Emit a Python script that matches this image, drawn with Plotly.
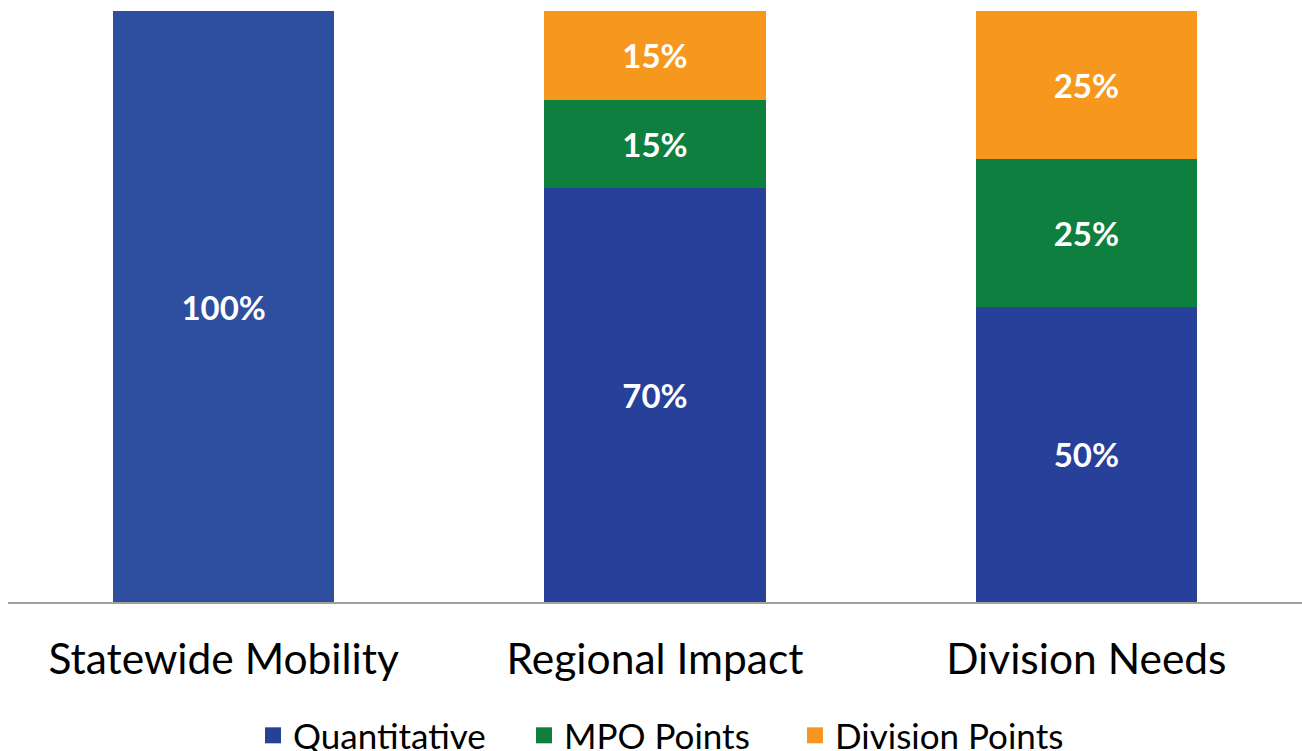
import plotly.graph_objects as go

categories = ["Statewide Mobility", "Regional Impact", "Division Needs"]
quantitative = [100, 70, 50]
mpo_points = [0, 15, 25]
division_points = [0, 15, 25]

series_names = ["Quantitative", "MPO Points", "Division Points"]
series_colors = ["#27419A", "#0F7F40", "#F7981E"]
quant_colors = ["#2E4E9F", "#27419A", "#27419A"]
FONT = "Lato"

def labels(vals):
    return [f"{v}%" if v > 0 else "" for v in vals]

fig = go.Figure()
fig.add_trace(go.Bar(x=categories, y=quantitative, name=series_names[0],
                     marker=dict(color=quant_colors, line=dict(width=0)),
                     text=labels(quantitative), showlegend=False))
fig.add_trace(go.Bar(x=categories, y=mpo_points, name=series_names[1],
                     marker=dict(color=series_colors[1], line=dict(width=0)),
                     text=labels(mpo_points), showlegend=False))
fig.add_trace(go.Bar(x=categories, y=division_points, name=series_names[2],
                     marker=dict(color=series_colors[2], line=dict(width=0)),
                     text=labels(division_points), showlegend=False))

fig.update_traces(textposition="inside", insidetextanchor="middle",
                  textfont=dict(family=FONT, size=33, color="white", weight="bold"),
                  textangle=0, cliponaxis=False)

# legend-only entries with larger square swatches
for name, col in zip(series_names, series_colors):
    fig.add_trace(go.Scatter(x=[None], y=[None], mode="markers", name=name,
                             marker=dict(symbol="square", size=20, color=col),
                             showlegend=True))

fig.update_layout(
    width=1302, height=751,
    barmode="stack", bargap=0.487,
    plot_bgcolor="white", paper_bgcolor="white",
    margin=dict(l=8, r=0, t=11, b=149, autoexpand=False),
    font=dict(family=FONT, color="black"),
    xaxis=dict(showline=True, linecolor="#A0A0A0", linewidth=2,
               tickfont=dict(family=FONT, size=42.5, color="black"),
               ticks="", ticklabelstandoff=19, showgrid=False, automargin=False),
    yaxis=dict(range=[0, 100], visible=False, showgrid=False, automargin=False),
    legend=dict(orientation="h", x=(253 - 8) / 1294, xanchor="left", y=-0.226, yanchor="middle",
                font=dict(family=FONT, size=35, color="black"),
                entrywidth=226, traceorder="normal", itemsizing="trace"),
    showlegend=True,
)

fig.write_html("out.html", config={"displayModeBar": False},
               post_script="document.body.style.margin='0';document.body.style.overflow='hidden';")
